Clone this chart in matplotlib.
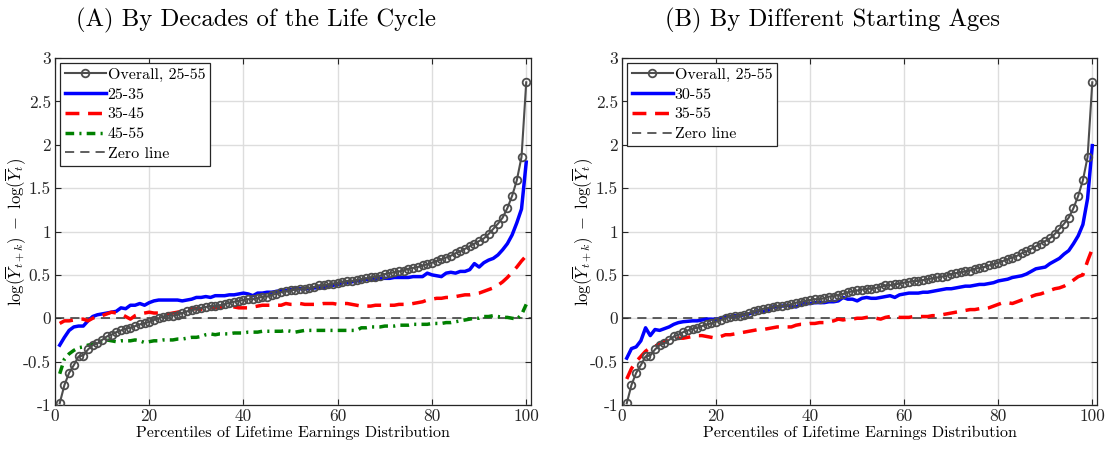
import numpy as np
import matplotlib
matplotlib.use('Agg')
import matplotlib.pyplot as plt

plt.rcParams['font.family'] = 'serif'
plt.rcParams['font.serif'] = ['cmr10', 'DejaVu Serif']
plt.rcParams['mathtext.fontset'] = 'cm'
plt.rcParams['axes.formatter.use_mathtext'] = True
plt.rcParams['axes.unicode_minus'] = False

# --- data ---
pct = np.arange(1, 101)

overall = [-0.98, -0.77, -0.63, -0.54, -0.44, -0.43, -0.36, -0.31, -0.29, -0.25,
           -0.21, -0.19, -0.16, -0.14, -0.12, -0.11, -0.09, -0.07, -0.06, -0.04,
           -0.02, 0.00, 0.02, 0.03, 0.03, 0.04, 0.06, 0.08, 0.09, 0.11,
           0.12, 0.13, 0.14, 0.14, 0.15, 0.16, 0.18, 0.19, 0.20, 0.21,
           0.22, 0.22, 0.23, 0.25, 0.25, 0.27, 0.28, 0.30, 0.31, 0.32,
           0.33, 0.34, 0.34, 0.35, 0.36, 0.38, 0.38, 0.39, 0.40, 0.41,
           0.42, 0.43, 0.43, 0.44, 0.45, 0.46, 0.47, 0.48, 0.49, 0.51,
           0.52, 0.53, 0.54, 0.55, 0.57, 0.58, 0.59, 0.61, 0.62, 0.64,
           0.66, 0.68, 0.70, 0.72, 0.75, 0.77, 0.80, 0.83, 0.86, 0.89,
           0.92, 0.97, 1.03, 1.09, 1.16, 1.27, 1.41, 1.59, 1.86, 2.72]

age_25_35 = [-0.31, -0.22, -0.14, -0.10, -0.09, -0.09, -0.03, 0.02, 0.04, 0.05,
             0.06, 0.07, 0.08, 0.12, 0.11, 0.15, 0.15, 0.17, 0.15, 0.18,
             0.20, 0.21, 0.21, 0.21, 0.21, 0.21, 0.20, 0.21, 0.22, 0.24,
             0.24, 0.25, 0.24, 0.26, 0.26, 0.26, 0.27, 0.27, 0.28, 0.29,
             0.28, 0.26, 0.29, 0.29, 0.30, 0.30, 0.31, 0.32, 0.32, 0.33,
             0.34, 0.34, 0.34, 0.34, 0.35, 0.35, 0.35, 0.37, 0.38, 0.39,
             0.41, 0.41, 0.42, 0.43, 0.44, 0.45, 0.44, 0.45, 0.46, 0.46,
             0.46, 0.47, 0.47, 0.47, 0.47, 0.48, 0.48, 0.48, 0.52, 0.50,
             0.49, 0.48, 0.52, 0.53, 0.52, 0.54, 0.54, 0.56, 0.63, 0.59,
             0.64, 0.67, 0.69, 0.73, 0.79, 0.86, 0.96, 1.10, 1.26, 1.80]

age_35_45 = [-0.06, -0.03, -0.03, -0.02, -0.01, -0.01, -0.03, 0.00, 0.02, 0.03,
             0.05, 0.07, 0.06, 0.05, 0.02, -0.01, 0.03, 0.05, 0.06, 0.07,
             0.06, 0.06, 0.05, 0.05, 0.06, 0.07, 0.08, 0.10, 0.11, 0.11,
             0.10, 0.11, 0.12, 0.12, 0.12, 0.13, 0.13, 0.13, 0.12, 0.12,
             0.12, 0.13, 0.14, 0.15, 0.15, 0.15, 0.15, 0.15, 0.17, 0.16,
             0.16, 0.17, 0.16, 0.16, 0.16, 0.16, 0.17, 0.17, 0.17, 0.16,
             0.17, 0.17, 0.16, 0.15, 0.14, 0.14, 0.14, 0.15, 0.15, 0.15,
             0.15, 0.15, 0.16, 0.16, 0.16, 0.17, 0.18, 0.19, 0.21, 0.22,
             0.23, 0.23, 0.24, 0.24, 0.25, 0.26, 0.27, 0.27, 0.28, 0.29,
             0.31, 0.33, 0.35, 0.38, 0.42, 0.47, 0.53, 0.59, 0.66, 0.72]

age_45_55 = [-0.64, -0.47, -0.41, -0.37, -0.34, -0.33, -0.31, -0.30, -0.28, -0.26,
             -0.25, -0.26, -0.27, -0.26, -0.26, -0.26, -0.25, -0.26, -0.28, -0.27,
             -0.26, -0.26, -0.25, -0.25, -0.25, -0.24, -0.24, -0.23, -0.22, -0.22,
             -0.21, -0.19, -0.18, -0.19, -0.18, -0.18, -0.18, -0.17, -0.17, -0.17,
             -0.16, -0.16, -0.16, -0.15, -0.15, -0.15, -0.15, -0.15, -0.14, -0.15,
             -0.16, -0.15, -0.14, -0.14, -0.14, -0.14, -0.14, -0.14, -0.14, -0.14,
             -0.14, -0.14, -0.14, -0.14, -0.11, -0.11, -0.10, -0.10, -0.10, -0.09,
             -0.09, -0.09, -0.08, -0.08, -0.08, -0.07, -0.07, -0.07, -0.07, -0.06,
             -0.06, -0.06, -0.05, -0.05, -0.04, -0.03, -0.02, -0.01, 0.00, 0.00,
             0.02, 0.02, 0.03, 0.02, 0.01, 0.01, 0.00, -0.01, 0.04, 0.16]

start_30_55 = [-0.46, -0.35, -0.33, -0.26, -0.11, -0.20, -0.13, -0.14, -0.12, -0.10,
               -0.07, -0.05, -0.04, -0.035, -0.03, -0.03, -0.02, -0.01, -0.01, -0.015,
               0.00, 0.02, 0.02, 0.03, 0.03, 0.04, 0.05, 0.07, 0.09, 0.08,
               0.09, 0.13, 0.13, 0.14, 0.15, 0.14, 0.13, 0.16, 0.17, 0.17,
               0.18, 0.18, 0.18, 0.19, 0.19, 0.20, 0.24, 0.22, 0.22, 0.20,
               0.23, 0.24, 0.23, 0.23, 0.24, 0.25, 0.26, 0.24, 0.27, 0.28,
               0.29, 0.29, 0.29, 0.30, 0.30, 0.31, 0.32, 0.33, 0.34, 0.34,
               0.35, 0.36, 0.37, 0.37, 0.38, 0.39, 0.39, 0.40, 0.41, 0.43,
               0.44, 0.45, 0.47, 0.48, 0.49, 0.51, 0.54, 0.57, 0.58, 0.59,
               0.63, 0.66, 0.69, 0.74, 0.78, 0.86, 0.95, 1.08, 1.38, 1.99]

start_35_55 = [-0.70, -0.58, -0.50, -0.44, -0.38, -0.34, -0.32, -0.30, -0.27, -0.25,
               -0.24, -0.23, -0.23, -0.22, -0.21, -0.20, -0.20, -0.21, -0.22, -0.23,
               -0.21, -0.19, -0.19, -0.18, -0.17, -0.16, -0.15, -0.14, -0.13, -0.13,
               -0.12, -0.11, -0.10, -0.10, -0.10, -0.10, -0.08, -0.07, -0.07, -0.06,
               -0.06, -0.05, -0.05, -0.04, -0.03, -0.01, -0.02, -0.01, -0.01, 0.00,
               0.00, 0.01, 0.01, 0.00, -0.01, 0.01, 0.02, 0.02, 0.01, 0.01,
               0.01, 0.02, 0.02, 0.02, 0.02, 0.03, 0.03, 0.04, 0.05, 0.06,
               0.07, 0.08, 0.09, 0.10, 0.10, 0.11, 0.11, 0.12, 0.14, 0.16,
               0.18, 0.18, 0.17, 0.19, 0.21, 0.23, 0.25, 0.27, 0.28, 0.30,
               0.32, 0.34, 0.35, 0.37, 0.40, 0.44, 0.48, 0.50, 0.66, 0.80]

yticks = [-1, -0.5, 0, 0.5, 1, 1.5, 2, 2.5, 3]
ytick_labels = ['-1', '-0.5', '0', '0.5', '1', '1.5', '2', '2.5', '3']
xticks = [0, 20, 40, 60, 80, 100]

fig = plt.figure(figsize=(11.11, 4.49), dpi=100)
ax1 = fig.add_axes([0.0495, 0.098, 0.4284, 0.7728])
ax2 = fig.add_axes([0.5599, 0.098, 0.4275, 0.7728])

grey = '#4d4d4d'


def plot_overall(ax):
    ax.plot(pct, overall, '-', color=grey, lw=1.5, marker='o', ms=5.5,
            mfc='none', mec=grey, mew=1.3, label='Overall, 25-55', zorder=5)


def zero_line(ax):
    ax.axhline(0, color='#333333', lw=1.1, ls=(0, (6, 4)), label='Zero line', zorder=3)


def style(ax):
    ax.set_xlim(0, 101)
    ax.set_ylim(-1, 3)
    ax.set_xticks(xticks)
    ax.set_xticklabels([str(t) for t in xticks])
    ax.set_yticks(yticks)
    ax.set_yticklabels(ytick_labels)
    ax.grid(True, color='#dddddd', lw=1.0)
    ax.set_axisbelow(True)
    ax.tick_params(direction='in', top=True, right=True, labelsize=12.5,
                   colors='#262626', length=4, pad=3)
    for s in ax.spines.values():
        s.set_color('#262626')
        s.set_linewidth(0.9)
    ax.set_xlabel('Percentiles of Lifetime Earnings Distribution', fontsize=11.5, labelpad=1)
    ax.set_ylabel(r'$\log(\overline{Y}_{t+k})\ -\ \log(\overline{Y}_t)$', fontsize=12)
    ax.yaxis.set_label_coords(-0.057, 0.5)
    leg = ax.legend(loc='upper left', fontsize=11.5, fancybox=False, framealpha=1,
                    edgecolor='#262626', handlelength=2.6, handletextpad=0.1,
                    borderaxespad=0.3, borderpad=0.3, labelspacing=0.35)
    leg.get_frame().set_linewidth(0.9)


# panel A
plot_overall(ax1)
ax1.plot(pct, age_25_35, '-', color='#0000ff', lw=2.5, label='25-35', zorder=4)
ax1.plot(pct, age_35_45, color='#ff0000', lw=2.5, ls=(0, (4, 2.5)), label='35-45', zorder=4)
ax1.plot(pct, age_45_55, color='#008000', lw=2.5, ls=(0, (2.5, 1.5, 0.6, 1.5)), label='45-55', zorder=4)
zero_line(ax1)
style(ax1)

# panel B
plot_overall(ax2)
ax2.plot(pct, start_30_55, '-', color='#0000ff', lw=2.5, label='30-55', zorder=4)
ax2.plot(pct, start_35_55, color='#ff0000', lw=2.5, ls=(0, (4, 2.5)), label='35-55', zorder=4)
zero_line(ax2)
style(ax2)

fig.text(0.230, 0.955, '(A) By Decades of the Life Cycle', fontsize=17.8, ha='center', va='center')
fig.text(0.749, 0.955, '(B) By Different Starting Ages', fontsize=17.8, ha='center', va='center')

fig.savefig('out.png', dpi=100)
